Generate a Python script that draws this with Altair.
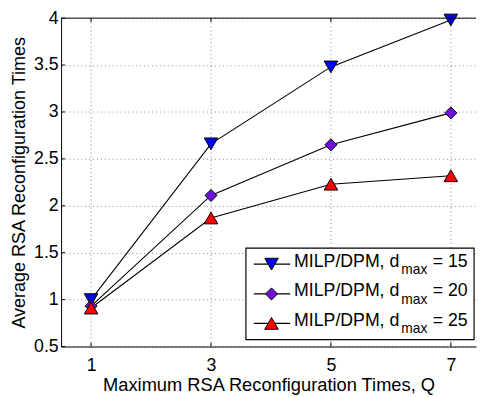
import altair as alt
import pandas as pd

Q = [1, 3, 5, 7]
d15 = [1.00, 2.66, 3.48, 3.98]
d20 = [0.93, 2.11, 2.65, 2.99]
d25 = [0.91, 1.87, 2.23, 2.32]
series_names = ["d15", "d20", "d25"]
legend_nums = ["15", "20", "25"]
shapes = ["triangle-down", "diamond", "triangle-up"]
colors = ["#0000FF", "#7010DC", "#FF0000"]
sizes = [190, 150, 190]
y_ticks = [0.5, 1, 1.5, 2, 2.5, 3, 3.5, 4]

FONT = "Liberation Sans"
W, H = 422, 334

rows = []
for name, vals in zip(series_names, [d15, d20, d25]):
    for q, v in zip(Q, vals):
        rows.append({"series": name, "Q": q, "value": v})
df = pd.DataFrame(rows)

xs = alt.Scale(domain=[0.5, 7.42], nice=False, zero=False)
ys = alt.Scale(domain=[0.5, 4], nice=False, zero=False)

xaxis = alt.Axis(values=Q, grid=True, gridDash=[1, 3], gridColor="#888", gridOpacity=1,
                 ticks=False, domain=True, domainColor="black", labelFont=FONT, labelFontSize=18,
                 labelColor="black", labelPadding=10, title="Maximum RSA Reconfiguration Times, Q",
                 titleFont=FONT, titleFontSize=18.6, titleFontWeight="normal", titleColor="black",
                 titlePadding=2)
yaxis = alt.Axis(values=y_ticks, grid=True, gridDash=[1, 3], gridColor="#888", gridOpacity=1,
                 ticks=False, domain=True, domainColor="black", labelFont=FONT, labelFontSize=18,
                 labelColor="black", labelPadding=3, title="Average RSA Reconfiguration Times",
                 titleFont=FONT, titleFontSize=18.3, titleFontWeight="normal", titleColor="black",
                 titlePadding=5, format="~g")

X = lambda f: alt.X(f, scale=xs, axis=xaxis)
Y = lambda f: alt.Y(f, scale=ys, axis=yaxis)

base = alt.Chart(df)
layers = []
for i, name in enumerate(series_names):
    sub = base.transform_filter(alt.datum.series == name)
    line = sub.mark_line(color="black", strokeWidth=1.1).encode(x=X("Q:Q"), y=Y("value:Q"))
    layers.append(line)
for j in [0, 1, 2]:
    sub = base.transform_filter(alt.datum.series == series_names[j])
    pts = sub.mark_point(shape=shapes[j], filled=True, fill=colors[j], stroke="black",
                         strokeWidth=1, size=sizes[j], opacity=1).encode(
        x=X("Q:Q"), y=Y("value:Q"))
    layers.append(pts)

# inner ticks and top frame line
tick_df = pd.DataFrame({"Q": Q})
xt = alt.Chart(tick_df).mark_rule(color="black").encode(
    x=X("Q:Q"), y=alt.value(H), y2=alt.value(H - 4))
xt_top = alt.Chart(tick_df).mark_rule(color="black").encode(
    x=X("Q:Q"), y=alt.value(0), y2=alt.value(4))
yt_df = pd.DataFrame({"value": y_ticks})
yt = alt.Chart(yt_df).mark_rule(color="black").encode(
    y=Y("value:Q"), x=alt.value(0), x2=alt.value(4))
one = pd.DataFrame({"a": [0]})
top_line = alt.Chart(one).mark_rule(color="black", strokeWidth=1).encode(
    x=alt.value(0), x2=alt.value(W), y=alt.value(0))
layers += [xt, xt_top, yt, top_line]

# legend
LX0, LX1, LY0, LY1 = 188, 420, 234, 327
layers.append(alt.Chart(one).mark_rect(fill="white", stroke="black", strokeWidth=1.2).encode(
    x=alt.value(LX0), x2=alt.value(LX1), y=alt.value(LY0), y2=alt.value(LY1)))
row_base = [252.7, 283, 313]
for i in range(3):
    yb = row_base[i]
    ym = yb - 2.5
    layers.append(alt.Chart(one).mark_rule(color="black", strokeWidth=1.2).encode(
        x=alt.value(196), x2=alt.value(233), y=alt.value(ym)))
    layers.append(alt.Chart(one).mark_point(shape=shapes[i], filled=True, fill=colors[i],
                                            stroke="black", strokeWidth=1, size=sizes[i],
                                            opacity=1).encode(
        x=alt.value(214), y=alt.value(ym)))
    layers.append(alt.Chart(one).mark_text(text="MILP/DPM, d", font=FONT, fontSize=18,
                                           align="left", baseline="alphabetic",
                                           color="black").encode(
        x=alt.value(237), y=alt.value(yb)))
    layers.append(alt.Chart(one).mark_text(text="max", font=FONT, fontSize=14,
                                           align="left", baseline="alphabetic",
                                           color="black").encode(
        x=alt.value(346), y=alt.value(yb + 7.5)))
    layers.append(alt.Chart(one).mark_text(text="= " + legend_nums[i], font=FONT, fontSize=18,
                                           align="left", baseline="alphabetic",
                                           color="black").encode(
        x=alt.value(378), y=alt.value(yb)))

chart = alt.layer(*layers).properties(
    width=W, height=H,
    autosize=alt.AutoSizeParams(type="none"),
    padding={"left": 54, "top": 7, "right": 1, "bottom": 46},
    background="white",
).configure_view(stroke=None)

chart.save("out.html", embed_options={"renderer": "svg", "actions": False})
